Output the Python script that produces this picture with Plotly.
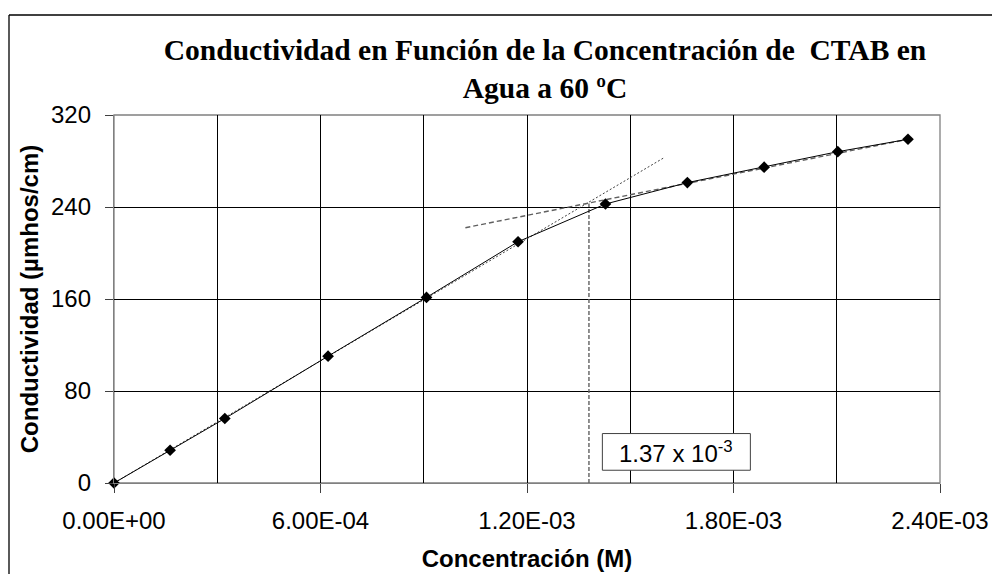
import plotly.graph_objects as go

# data
conc = [0, 1.63e-4, 3.22e-4, 6.22e-4, 9.08e-4, 11.74e-4, 14.28e-4, 16.66e-4, 18.89e-4, 21.03e-4, 23.07e-4]
cond = [0, 28.5, 56.1, 110.3, 161.4, 209.8, 242.6, 261.2, 274.6, 288.1, 298.9]

# tangent lines (before / after the CMC)
fit1_x = [0, 1.60e-3]
fit1_y = [0, 283.2]
fit2_x = [1.021e-3, 2.307e-3]
fit2_y = [222.0, 298.9]

cmc_x = 1.38e-3
cmc_y = 243.0
cmc_label = "1.37 x 10<sup>-3</sup>"

xtick_vals = [0, 6e-4, 1.2e-3, 1.8e-3, 2.4e-3]
xtick_text = ["0.00E+00", "6.00E-04", "1.20E-03", "1.80E-03", "2.40E-03"]
ytick_vals = [0, 80, 160, 240, 320]

W, H = 992, 574
ml, mr, mt, mb = 114, 52, 115, 91
pw = W - ml - mr
ph = H - mt - mb

fig = go.Figure()

fig.add_trace(go.Scatter(x=fit1_x, y=fit1_y, mode="lines",
                         line=dict(color="#404040", width=1, dash="2px,2px")))
fig.add_trace(go.Scatter(x=fit2_x, y=fit2_y, mode="lines",
                         line=dict(color="#606060", width=1.4, dash="5px,3px")))
fig.add_trace(go.Scatter(x=[cmc_x, cmc_x], y=[0, cmc_y], mode="lines",
                         line=dict(color="#606060", width=1.4, dash="4px,2px")))
fig.add_trace(go.Scatter(x=conc, y=cond, mode="lines+markers", cliponaxis=False,
                         line=dict(color="black", width=1),
                         marker=dict(symbol="diamond", size=9, color="black")))

# label box for the CMC
fig.add_shape(type="rect", xref="x", yref="y", x0=14.19e-4, x1=18.49e-4, y0=11.1, y1=43.0,
              line=dict(color="#404040", width=1), fillcolor="white", layer="above")
fig.add_annotation(x=16.34e-4, y=27, xref="x", yref="y", text=cmc_label, showarrow=False,
                   font=dict(family="Liberation Sans", size=24, color="black"))

# outer chart frame (only top and left edges are visible)
fx0 = (9 - ml) / pw
fy1 = 1 + (mt - 15) / ph
fig.add_shape(type="line", xref="paper", yref="paper", x0=fx0, x1=1.3, y0=fy1, y1=fy1,
              line=dict(color="black", width=1.3))
fig.add_shape(type="line", xref="paper", yref="paper", x0=fx0, x1=fx0, y0=-0.5, y1=fy1,
              line=dict(color="black", width=1.3))
# plot area border
fig.add_shape(type="rect", xref="paper", yref="paper", x0=0, x1=1, y0=0, y1=1,
              line=dict(color="#808080", width=1.3), fillcolor="rgba(0,0,0,0)", layer="below")

fig.update_layout(
    width=W, height=H,
    margin=dict(l=ml, r=mr, t=mt, b=mb, autoexpand=False),
    paper_bgcolor="white", plot_bgcolor="white",
    showlegend=False,
    font=dict(family="Liberation Sans", color="black"),
    title=dict(
        text="Conductividad en Función de la Concentración de\u00a0 CTAB en<br>Agua a 60 ºC",
        x=545 / W, xanchor="center", y=1 - 60 / H, yanchor="top",
        font=dict(family="Liberation Serif", size=29.5, color="black", weight="bold"),
    ),
)

fig.update_xaxes(
    range=[0, 2.4e-3], tickvals=xtick_vals, ticktext=xtick_text,
    automargin=False,
    showgrid=True, gridcolor="black", gridwidth=1,
    minor=dict(tick0=0, dtick=3e-4, showgrid=True, gridcolor="black", gridwidth=1),
    ticks="outside", ticklen=9, tickcolor="#404040", ticklabelstandoff=7,
    showline=True, linecolor="#808080", linewidth=1.3,
    tickfont=dict(size=24),
    zeroline=False,
    title=dict(text="<b>Concentración (M)</b>", font=dict(size=24), standoff=17),
)
fig.update_yaxes(
    range=[0, 320], tickvals=ytick_vals,
    automargin=False,
    showgrid=True, gridcolor="black", gridwidth=1,
    ticks="outside", ticklen=8, tickcolor="#404040", ticklabelstandoff=9,
    showline=True, linecolor="#808080", linewidth=1.3,
    tickfont=dict(size=24),
    zeroline=False,
    title=dict(text="<b>Conductividad (µmhos/cm)</b>", font=dict(size=24), standoff=5),
)

# page has a default 8px body margin; remove it so the figure sits at the corner
fig.write_html("out.html", config={"displayModeBar": False},
               post_script="document.body.style.margin='0';")
